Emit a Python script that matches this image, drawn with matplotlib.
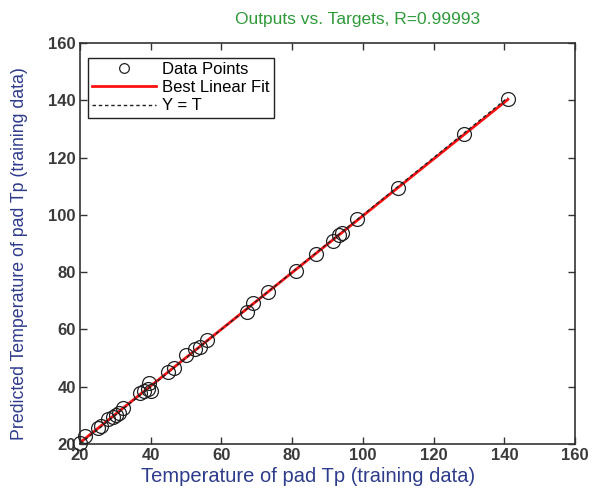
import matplotlib
matplotlib.use('Agg')
import matplotlib.pyplot as plt
import numpy as np

matplotlib.rc('font', family=['Liberation Sans', 'DejaVu Sans'])

# targets (x) and network outputs (y)
targets = [20, 21.3, 25, 26, 28, 29.3, 30.2, 31, 32.2, 37, 38, 39.3, 39.6, 40,
           45, 46.5, 50, 52.5, 54, 56, 67.3, 69, 73.2, 81, 86.7, 91.5, 93.2,
           94, 98.4, 110, 128.5, 141]
outputs = [20.3, 22.8, 25.5, 26.2, 28.8, 29.5, 30.1, 30.8, 32.4, 37.8, 38.6, 39,
           41.2, 38.6, 45.2, 46.4, 51, 53, 53.7, 56.2, 66.2, 69.2, 73, 80.5,
           86.4, 91, 93, 93.8, 98.6, 109.5, 128.2, 140.6]
ticks = [20, 40, 60, 80, 100, 120, 140, 160]

x = np.array(targets)
y = np.array(outputs)
coef = np.polyfit(x, y, 1)
xl = np.array([x.min(), x.max()])

fig = plt.figure(figsize=(6.06, 4.91), dpi=100)
ax = fig.add_axes([0.132, 0.096, 0.817, 0.816])

ax.plot(x, y, 'o', mfc='none', mec='#222222', ms=10, mew=0.9, label='Data Points',
        zorder=3, clip_on=False)
ax.plot(xl, np.polyval(coef, xl), color='#ff1010', lw=2, label='Best Linear Fit', zorder=2)
ax.plot(xl, xl, color='#222222', ls=(0, (2.5, 2)), lw=1, label='Y = T', zorder=4)

ax.set_xlim(20, 160)
ax.set_ylim(20, 160)
ax.set_xticks(ticks)
ax.set_yticks(ticks)
ax.tick_params(direction='in', top=True, right=True, length=5, width=1,
               colors='#333333', labelsize=12, pad=3)
for lab in ax.get_xticklabels() + ax.get_yticklabels():
    lab.set_fontweight('bold')
    lab.set_color('#3a3a3a')
for s in ax.spines.values():
    s.set_color('#333333')
    s.set_linewidth(1.2)

ax.set_title('Outputs vs. Targets, R=0.99993', color='#2f9a3a', fontsize=12.5, pad=14, x=0.56)
ax.set_xlabel('Temperature of pad Tp (training data)', color='#2e3c8c', fontsize=14.5, labelpad=3)
ax.xaxis.set_label_coords(0.46, -0.058)
ax.set_ylabel('Predicted Temperature of pad Tp (training data)', color='#2e3c8c', fontsize=12.8)
ax.yaxis.set_label_coords(-0.105, 0.475)

leg = ax.legend(loc='upper left', fancybox=False, edgecolor='#222222', fontsize=12,
                handlelength=3.8, handletextpad=0.4, borderpad=0.25, labelspacing=0.2,
                markerscale=0.7, bbox_to_anchor=(0.0, 0.985), framealpha=1)
leg.get_frame().set_linewidth(1.0)

fig.savefig('out.png', dpi=100)
